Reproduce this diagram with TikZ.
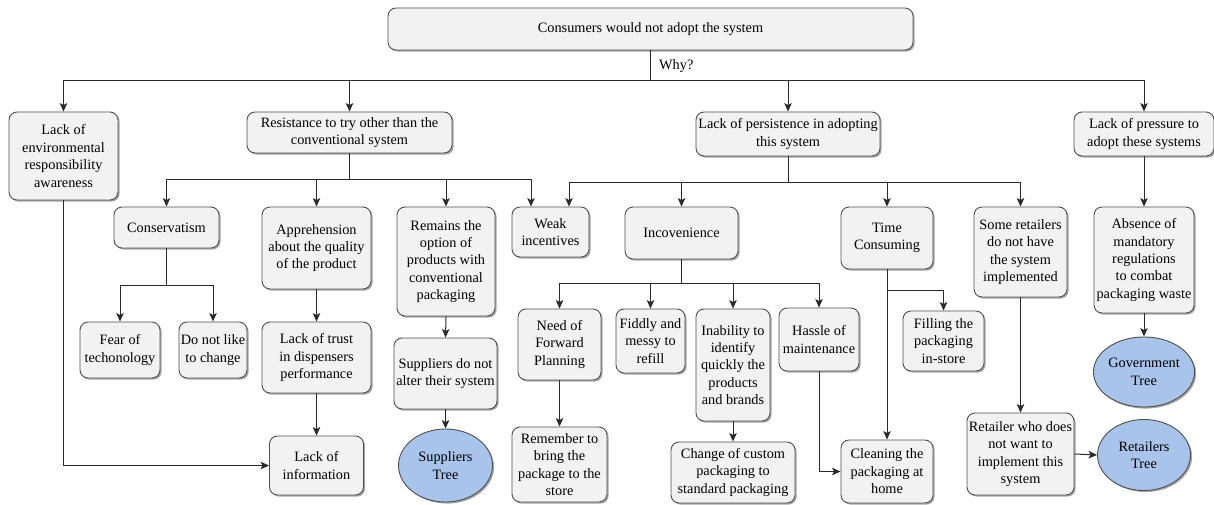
\documentclass[tikz,border=0pt]{standalone}
\usepackage{fontspec}
\setmainfont{Liberation Serif}
\usetikzlibrary{arrows.meta,shadows,shapes.geometric}

\definecolor{boxfill}{HTML}{F2F2F2}
\definecolor{boxline}{HTML}{4F4F4F}
\definecolor{wire}{HTML}{2A2A2A}
\definecolor{treefill}{HTML}{A9C4EB}

\begin{document}
\begin{tikzpicture}[x=1pt,y=-1pt,
  font=\fontsize{14.3}{17.4}\selectfont,
  shade box/.style={drop shadow={shadow xshift=1.6pt, shadow yshift=-1.6pt, opacity=0.35, fill=black}},
  box/.style={draw=boxline, fill=boxfill, rounded corners=8pt, line width=0.9pt,
    align=center, inner sep=0pt, shade box},
  tree/.style={ellipse, draw=boxline, fill=treefill, line width=0.9pt,
    align=center, inner sep=0pt, shade box},
  sz/.style 2 args={minimum width=#1pt, minimum height=#2pt},
  link/.style={draw=wire, line width=1pt},
  arr/.style={link, -{Stealth[length=8.5pt,width=7.5pt,inset=2pt]}},
]
\useasboundingbox (0,0) rectangle (1214,505);

% root and first level
\node[box, sz={525}{42}] (top) at (650.5,29) {Consumers would not adopt the system};
\node[box, sz={109}{88}] (env) at (63.5,156) {Lack of\\environmental\\responsibility\\awareness};
\node[box, sz={205}{41}] (resist) at (349.5,132.5) {Resistance to try other than the\\conventional system};
\node[box, sz={184}{44}] (persist) at (788,134) {Lack of persistence in adopting\\this system};
\node[box, sz={140}{44}] (pressure) at (1144,134) {Lack of pressure to\\adopt these systems};

% second level
\node[box, sz={105}{41}] (conserv) at (166.5,227.5) {Conservatism};
\node[box, sz={109}{82}] (appr) at (316.5,248) {Apprehension\\about the quality\\of the product};
\node[box, sz={98}{109}] (remains) at (446,261.5) {Remains the\\option of\\products with\\conventional\\packaging};
\node[box, sz={77}{50}] (weak) at (550.5,232) {Weak\\incentives};
\node[box, sz={113}{52}] (incov) at (681.5,233) {Incovenience};
\node[box, sz={92}{62}] (time) at (887,238) {Time\\Consuming};
\node[box, sz={93}{90}] (some) at (1020.5,252) {Some retailers\\do not have\\the system\\implemented};
\node[box, sz={100}{106}] (absence) at (1144,260) {Absence of\\mandatory\\regulations\\to combat\\packaging waste};

% third level
\node[box, sz={80}{56}] (fear) at (120,350) {Fear of\\techonology};
\node[box, sz={68}{56}] (dislike) at (213,350) {Do not like\\to change};
\node[box, sz={109}{71}] (trust) at (316.5,357.5) {Lack of trust\\in dispensers\\performance};
\node[box, sz={103}{71}] (suppalter) at (445.5,373.5) {Suppliers do not\\alter their system};
\node[box, sz={83}{71}] (need) at (559.5,344.5) {Need of\\Forward\\Planning};
\node[box, sz={69}{64}] (fiddly) at (650.5,341) {Fiddly and\\messy to\\refill};
\node[box, sz={74}{112}] (inability) at (733,365) {Inability to\\identify\\quickly the\\products\\and brands};
\node[box, sz={80}{63}] (hassle) at (819,339.5) {Hassle of\\maintenance};
\node[box, sz={81}{60}] (filling) at (943.5,341) {Filling the\\packaging\\in-store};
\node[tree, sz={93}{70}] (govtree) at (1144,372) {Government\\Tree};

% bottom level
\node[box, sz={94}{59}] (info) at (316.5,465.5) {Lack of\\information};
\node[tree, sz={94}{73}] (supptree) at (445.5,465.5) {Suppliers\\Tree};
\node[box, sz={95}{75}] (remember) at (559.5,464.5) {Remember to\\bring the\\package to the\\store};
\node[box, sz={124}{61}] (change) at (733,472.5) {Change of custom\\packaging to\\standard packaging};
\node[box, sz={92}{63}] (cleaning) at (887,471.5) {Cleaning the\\packaging at\\home};
\node[box, sz={107}{82}] (retailer) at (1020.5,454) {Retailer who does\\not want to\\implement this\\system};
\node[tree, sz={93}{71}] (rettree) at (1144,455) {Retailers\\Tree};

% branching points
\coordinate (why) at (650.5,80.5);
\coordinate (rbar) at (349.5,180);
\coordinate (pbar) at (788,182);
\coordinate (cbar) at (166.5,285);
\coordinate (ibar) at (681.5,283);
\coordinate (tbar) at (887,290);

\node[anchor=west, inner sep=0pt] (whylabel) at (659,66) {Why?};

% root fan-out
\draw[link] (top.south) -- (why);
\draw[arr] (why) -| (env.north);
\draw[arr] (why) -| (resist.north);
\draw[arr] (why) -| (persist.north);
\draw[arr] (why) -| (pressure.north);

% resistance branch
\draw[link] (resist.south) -- (rbar);
\draw[arr] (rbar) -| (conserv.north);
\draw[arr] (rbar) -| (appr.north);
\draw[arr] (rbar) -| (remains.north);
\draw[arr] (rbar) -| ([xshift=-19.5pt]weak.north);

% persistence branch
\draw[link] (persist.south) -- (pbar);
\draw[arr] (pbar) -| ([xshift=18.5pt]weak.north);
\draw[arr] (pbar) -| (incov.north);
\draw[arr] (pbar) -| (time.north);
\draw[arr] (pbar) -| (some.north);

% conservatism
\draw[link] (conserv.south) -- (cbar);
\draw[arr] (cbar) -| (fear.north);
\draw[arr] (cbar) -| (dislike.north);

% apprehension chain
\draw[arr] (appr.south) -- (trust.north);
\draw[arr] (trust.south) -- (info.north);
\draw[arr] (env.south) |- (info.west);

% suppliers chain
\draw[arr] (remains.south) -- (suppalter.north);
\draw[arr] (suppalter.south) -- (supptree.north);

% inconvenience
\draw[link] (incov.south) -- (ibar);
\draw[arr] (ibar) -| (need.north);
\draw[arr] (ibar) -| (fiddly.north);
\draw[arr] (ibar) -| (inability.north);
\draw[arr] (ibar) -| (hassle.north);
\draw[arr] (need.south) -- (remember.north);
\draw[arr] (inability.south) -- (change.north);
\draw[arr] (hassle.south) |- (cleaning.west);

% time consuming
\draw[arr] (time.south) -- (cleaning.north);
\draw[arr] (tbar) -| (filling.north);

% retailers
\draw[arr] (some.south) -- (retailer.north);
\draw[arr] (retailer.east) -- (rettree.west);

% government
\draw[arr] (pressure.south) -- (absence.north);
\draw[arr] (absence.south) -- (govtree.north);
\end{tikzpicture}
\end{document}
